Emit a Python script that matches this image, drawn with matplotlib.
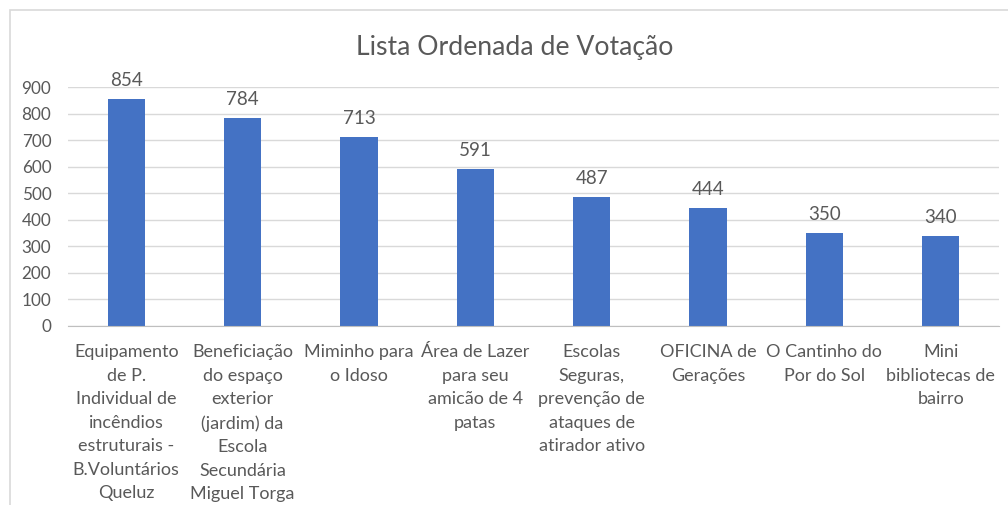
import matplotlib
matplotlib.use("Agg")
import matplotlib.pyplot as plt
from matplotlib.patches import Rectangle

categorias = [
    "Equipamento\nde P.\nIndividual de\nincêndios\nestruturais -\nB.Voluntários\nQueluz",
    "Beneficiação\ndo espaço\nexterior\n(jardim) da\nEscola\nSecundária\nMiguel Torga",
    "Miminho para\no Idoso",
    "Área de Lazer\npara seu\namicão de 4\npatas",
    "Escolas\nSeguras,\nprevenção de\nataques de\natirador ativo",
    "OFICINA de\nGerações",
    "O Cantinho do\nPor do Sol",
    "Mini\nbibliotecas de\nbairro",
]
votos = [854, 784, 713, 591, 487, 444, 350, 340]
yticks = [0, 100, 200, 300, 400, 500, 600, 700, 800, 900]

plt.rcParams['font.family'] = ['Lato', 'DejaVu Sans']
cinza = "#595959"

fig = plt.figure(figsize=(10.08, 5.05), dpi=100)
# moldura do gráfico
fig.patches.append(Rectangle((10/1008, -0.1), 1.2, (495/505) + 0.1,
                             transform=fig.transFigure, fill=False,
                             edgecolor="#d9d9d9", linewidth=1.2))

ax = fig.add_axes([68/1008, 179/505, 931/1008, 239/505])
x = range(len(votos))
bars = ax.bar(x, votos, width=0.32, color="#4472C4", zorder=3)

for xi, v in zip(x, votos):
    ax.annotate(str(v), (xi, v), xytext=(0, 7), textcoords="offset points",
                ha="center", va="bottom", fontsize=13.5, color=cinza)

ax.set_xlim(-0.5, len(votos) - 0.5)
ax.set_ylim(0, 900)
ax.set_yticks(yticks)
ax.set_xticks(list(x))
ax.set_xticklabels(categorias, fontsize=13, color=cinza, linespacing=1.58,
                   va="top", ha="center")
ax.tick_params(axis="y", length=0, labelsize=12.3, labelcolor=cinza, pad=12)
ax.tick_params(axis="x", length=0, pad=13)
ax.grid(axis="y", color="#d9d9d9", linewidth=1, zorder=0)
for s in ["top", "right", "left"]:
    ax.spines[s].set_visible(False)
ax.spines["bottom"].set_color("#bfbfbf")
ax.spines["bottom"].set_zorder(4)

fig.text(515/1008, 1 - 47/505, "Lista Ordenada de Votação", ha="center",
         va="center", fontsize=19.2, color=cinza)

fig.savefig("out.png", dpi=100)
